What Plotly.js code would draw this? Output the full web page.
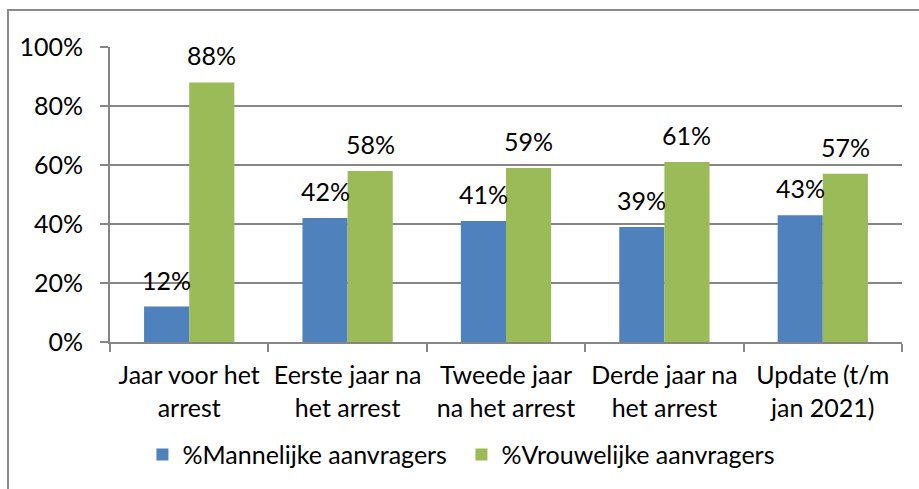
<!DOCTYPE html>
<html>
<head>
<meta charset="utf-8">
<script src="https://cdn.plot.ly/plotly-3.0.1.min.js"></script>
<style>
  html, body { margin: 0; padding: 0; background: #fff; }
  #frame { position: absolute; left: 7px; top: 9px; width: 930px; height: 500px;
           border-left: 2px solid #8a8a8a; border-top: 2px solid #8a8a8a; }
  #chart { position: absolute; left: 0; top: 0; width: 919px; height: 489px; }
</style>
</head>
<body>
<div id="frame"></div>
<div id="chart"></div>
<script>
const categories = [
  "Jaar voor het<br>arrest",
  "Eerste jaar na<br>het arrest",
  "Tweede jaar<br>na het arrest",
  "Derde jaar na<br>het arrest",
  "Update (t/m<br>jan 2021)"
];
const seriesNames = ["%Mannelijke aanvragers", "%Vrouwelijke aanvragers"];
const maleValues = [0.12, 0.42, 0.41, 0.39, 0.43];
const femaleValues = [0.88, 0.58, 0.59, 0.61, 0.57];
const colors = ["#4F81BD", "#9BBB59"];

const FONT = "Lato, 'Open Sans', sans-serif";
const FS = 25;

const traces = [
  { type: "bar", name: seriesNames[0], x: categories, y: maleValues,
    marker: { color: colors[0], line: { width: 0 } }, hoverinfo: "none" },
  { type: "bar", name: seriesNames[1], x: categories, y: femaleValues,
    marker: { color: colors[1], line: { width: 0 } }, hoverinfo: "none" }
];

const annotations = [];
[maleValues, femaleValues].forEach((vals, s) => {
  vals.forEach((v, i) => {
    annotations.push({
      x: categories[i], y: v, xref: "x", yref: "y",
      text: Math.round(v * 100) + "%",
      showarrow: false, xanchor: "center", yanchor: "middle",
      xshift: s === 0 ? -22.5 : 22.5, yshift: 27,
      font: { family: FONT, size: FS, color: "#000" }
    });
  });
});

const layout = {
  width: 919, height: 489,
  margin: { l: 110, r: 17, t: 47, b: 147, autoexpand: false },
  paper_bgcolor: "rgba(0,0,0,0)", plot_bgcolor: "rgba(0,0,0,0)",
  barmode: "group", bargap: 0.43, bargroupgap: 0,
  font: { family: FONT, size: FS, color: "#000" },
  showlegend: true,
  legend: { orientation: "h", xref: "container", x: 0.155, xanchor: "left",
            yref: "container", y: 0.07, yanchor: "middle",
            entrywidth: 274, entrywidthmode: "pixels",
            font: { family: FONT, size: FS, color: "#000" }, traceorder: "normal" },
  xaxis: {
    type: "category", showgrid: false, showline: true, linecolor: "#868686", linewidth: 2,
    ticks: "outside", tickson: "boundaries", ticklen: 8, tickwidth: 2, tickcolor: "#868686",
    ticklabelstandoff: 10, automargin: false,
    tickfont: { family: FONT, size: FS, color: "#000" }, zeroline: false, fixedrange: true
  },
  yaxis: {
    range: [0, 1], tickvals: [0, 0.2, 0.4, 0.6, 0.8, 1.0],
    ticktext: ["0%", "20%", "40%", "60%", "80%", "100%"],
    showgrid: true, gridcolor: "#868686", gridwidth: 2,
    showline: true, linecolor: "#868686", linewidth: 2,
    ticks: "outside", ticklen: 8, tickwidth: 2, tickcolor: "#868686",
    ticklabelstandoff: 12, automargin: false,
    tickfont: { family: FONT, size: FS, color: "#000" }, zeroline: false, fixedrange: true
  },
  annotations: annotations
};

Plotly.newPlot("chart", traces, layout, { displayModeBar: false, staticPlot: true });
</script>
</body>
</html>
